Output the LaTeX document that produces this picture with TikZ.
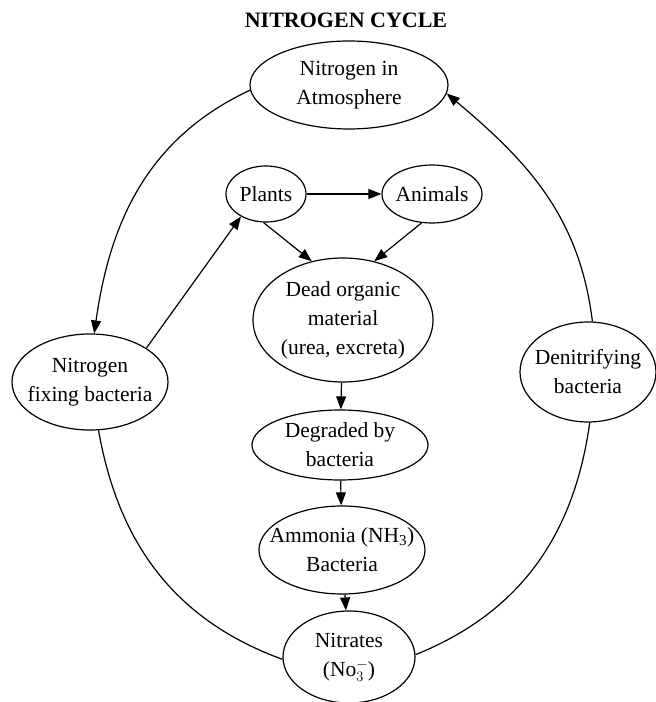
\documentclass[tikz,border=0pt]{standalone}
\usepackage{fontspec}
\setmainfont{Liberation Serif}
\usetikzlibrary{shapes.geometric}
\usetikzlibrary{arrows.meta}

\tikzset{
    cyc/.style={ellipse, draw, line width=1.2pt, inner sep=0pt},
    txt/.style={align=center, inner sep=0pt, font=\fontsize{21.5}{29}\selectfont},
    link/.style={->, line width=1.2pt},
}

\begin{document}
\begin{tikzpicture}[x=1pt, y=1pt, >={Triangle[length=13pt,width=10pt]}]
    \useasboundingbox (0,0) rectangle (656,702);
    \node[font=\bfseries\fontsize{22}{26}\selectfont] (title) at (346,682) {NITROGEN CYCLE};

    \node[cyc, minimum width=198, minimum height=88, label={[txt]center:{Nitrogen in\\Atmosphere}}] (atm) at (349,617) {};
    \node[cyc, minimum width=80, minimum height=56, label={[txt]center:{Plants}}] (plants) at (266,508) {};
    \node[cyc, minimum width=100, minimum height=58, label={[txt]center:{Animals}}] (animals) at (432,508) {};
    \node[cyc, minimum width=180, minimum height=124, label={[txt]center:{Dead organic\\material\\(urea, excreta)}}] (dead) at (343,382) {};
    \node[cyc, minimum width=176, minimum height=70, label={[txt]center:{Degraded by\\bacteria}}] (degr) at (340,257) {};
    \node[cyc, minimum width=166, minimum height=88, label={[txt]center:{Ammonia (NH\textsubscript{3})\\Bacteria}}] (ammo) at (342,152) {};
    \node[cyc, minimum width=132, minimum height=92, label={[txt]center:{Nitrates\\(No$_3^-$)}}] (nitr) at (349,45) {};
    \node[cyc, minimum width=156, minimum height=96, label={[txt]center:{Nitrogen\\fixing bacteria}}] (nfix) at (90,320) {};
    \node[cyc, minimum width=136, minimum height=100, label={[txt]center:{Denitrifying\\bacteria}}] (denit) at (588,330) {};

    % outer cycle
    \draw[link] (atm.183) to[out=205, in=82] (nfix.85);
    \draw[link] (denit.85) to[out=97, in=-40] (atm.-5);
    \draw[line width=1.2pt] (nfix.-80) to[out=-80, in=160] (nitr.182);
    \draw[line width=1.2pt] (nitr.2) to[out=22, in=-98] (denit.-88);

    % inner chain
    \draw[link] (nfix.31) -- (plants.-138);
    \draw[link] (plants) -- (animals);
    \draw[link] (plants.-95) -- (dead.118);
    \draw[link] (animals.-110) -- (dead.62);
    \draw[link] (dead) -- (degr);
    \draw[link] (degr) -- (ammo);
    \draw[link] (ammo) -- (nitr);
\end{tikzpicture}
\end{document}
